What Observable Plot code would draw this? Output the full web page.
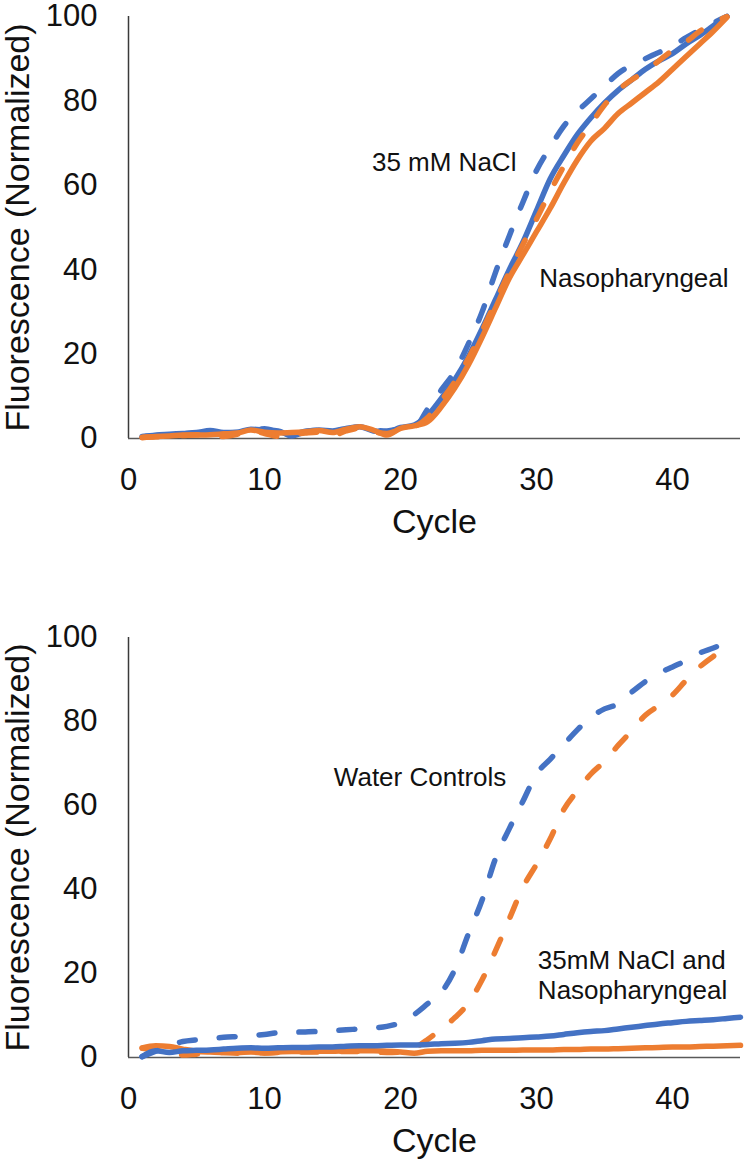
<!DOCTYPE html>
<html>
<head>
<meta charset="utf-8">
<script src="https://cdn.jsdelivr.net/npm/d3@7"></script>
<script src="https://cdn.jsdelivr.net/npm/@observablehq/plot@0.6"></script>
<style>
  html, body { margin: 0; padding: 0; background: #fff; }
  #chart svg { display: block; }
</style>
</head>
<body>
<div id="chart"></div>
<script>
// ---------- data ----------
const cycles = [1,2,3,4,5,6,7,8,9,10,11,12,13,14,15,16,17,18,19,20,21,22,23,24,25,26,27,28,29,30,31,32,33,34,35,36,37,38,39,40,41,42,43,44,45];
const xTicks = [0, 10, 20, 30, 40];
const yTicks = [0, 20, 40, 60, 80, 100];

// Top panel (cycles 1..44)
const topBlueSolid = [0.5,0.8,1.0,1.2,1.4,1.9,1.4,1.5,2.2,2.0, 1.8,0.6,1.6,2.0,1.8,2.4,2.8,1.8,1.6,2.6, 3.2,5.5,9.5,14,19.5,26,33,40,46.5,54, 61.5,67,72,76,79.5,82.5,85,87.5,89.5,91.2, 93.5,95.5,97.8,100];
const topBlueDashed = [0.3,0.7,0.9,1.1,1.3,1.6,1.2,1.4,1.8,2.3, 1.5,1.0,1.7,1.9,2.0,2.2,2.6,2.0,1.8,2.3, 2.6,7.0,11.5,16,22.5,30,39.5,48,56,63.5, 69,74,77.5,80.5,83.5,86.5,88.5,90,91.5,93, 95,96.8,98.5,100];
const topOrangeSolid = [0.3,0.5,0.6,0.8,0.8,0.9,1.1,1.3,2.0,1.5, 1.3,1.4,1.6,1.9,1.4,2.2,2.8,2.0,0.8,2.4, 3.0,4.0,7.5,12,17.5,24,31,38,43.5,49, 54.5,60.5,66,70.5,73.5,77,79.5,82,84.5,87.5, 90.5,93.5,96.5,99.8];
const topOrangeDashed = [0.2,0.4,0.5,0.7,0.9,0.6,0.5,1.0,1.8,1.2, 0.5,1.0,1.3,1.5,0.7,1.8,2.4,1.6,1.2,2.2, 2.8,5.0,9.0,13.5,19,25.5,32.5,39.5,46,52, 58.5,64.5,70,74.5,79,82.5,85,87,89.5,92, 94,96.5,98.5,100];

// Bottom panel
const botBlueSolid = [0.2,1.6,1.2,1.6,1.7,1.8,2.0,2.2,2.3,2.2, 2.3,2.4,2.4,2.5,2.5,2.7,2.8,2.8,2.9,3.0, 3.0,3.1,3.3,3.4,3.6,4.0,4.4,4.5,4.7,4.9, 5.1,5.5,5.9,6.2,6.4,6.8,7.2,7.6,8.0,8.3, 8.6,8.8,9.0,9.3,9.6];
const botOrangeSolid = [2.3,2.8,2.6,2.0,1.5,1.3,1.2,1.2,1.3,1.1, 1.3,1.4,1.4,1.5,1.5,1.6,1.6,1.6,1.5,1.3, 1.0,1.5,1.6,1.6,1.6,1.7,1.7,1.7,1.8,1.8, 1.8,1.9,1.9,2.0,2.0,2.1,2.2,2.3,2.4,2.5, 2.5,2.6,2.7,2.8,2.9];
const botBlueDashed = [0.2,1.5,2.8,3.8,4.2,4.5,4.8,5.0,5.2,5.5, 5.9,6.0,6.1,6.2,6.4,6.6,6.8,7.0,7.4,8.3, 10.2,12.8,15.5,21,29.5,37.5,47.5,54.5,61,67.5, 71,74.5,78,81,83,84.2,87,89.5,91.5,93, 94.5,96.3,97.5,98.8];
const botOrangeDashed = [2.2,1.8,1.2,0.6,0.8,1.0,1.2,1.0,1.2,1.1, 1.2,1.3,1.3,1.3,1.4,1.4,1.4,1.3,1.2,1.3, 2.2,4.3,6.8,9.5,13,18.5,25.5,33,40.5,46, 52,59,63.5,67.5,70.5,74.3,77.8,81.5,83.8,86.3, 89.8,93,95.5,97.5];

// Annotation labels (cycle, normalized fluorescence)
const topLabels = ["35 mM NaCl", "Nasopharyngeal"];
const topLabelX = [17.9, 30.2];
const topLabelY = [65.4, 37.9];
const botLabels = ["Water Controls", "35mM NaCl and", "Nasopharyngeal"];
const botLabelX = [15.1, 30.1, 30.1];
const botLabelY = [66.7, 23.1, 16.0];

// ---------- styling ----------
const BLUE = "#4472C4";
const ORANGE = "#ED7D31";
const FONT = "'Liberation Sans', Arial, Helvetica, sans-serif";
const DASH = "16,24";

function toRows(values) {
  return values.map((v, i) => ({cycle: cycles[i], value: v}));
}
function toLabels(texts, xs, ys) {
  return texts.map((t, i) => ({text: t, x: xs[i], y: ys[i]}));
}

function panel(series, labels, dims) {
  return Plot.plot({
    width: 744,
    height: dims.height,
    marginTop: dims.marginTop,
    marginBottom: dims.marginBottom,
    marginLeft: 128,
    marginRight: 4,
    style: {fontFamily: FONT, fontSize: "31px", color: "#111", background: "#fff", overflow: "visible"},
    x: {domain: [0, 45]},
    y: {domain: [0, 100]},
    marks: [
      Plot.axisY({ticks: yTicks, tickSize: 0, tickPadding: 31, label: null, fontSize: 31}),
      Plot.axisX({ticks: xTicks, tickSize: 0, tickPadding: 29, label: null, fontSize: 31}),
      Plot.ruleX([0], {stroke: "#3a3a3a", strokeWidth: 1.5}),
      Plot.ruleY([0], {stroke: "#595959", strokeWidth: 1.5}),
      ...series.map(s => Plot.line(toRows(s.values), {
        x: "cycle", y: "value", stroke: s.color, strokeWidth: 5.5,
        strokeDasharray: s.dash ? DASH : null,
        strokeLinecap: "round", strokeLinejoin: "round",
        curve: "monotone-x"
      })),
      Plot.text(labels, {x: "x", y: "y", text: "text", textAnchor: "start", fontSize: 26, fill: "#111"}),
      Plot.text(["Cycle"], {frameAnchor: "bottom", textAnchor: "middle", text: d => d, dy: 94, fontSize: 34, fill: "#111"}),
      Plot.text(["Fluorescence (Normalized)"], {frameAnchor: "left", textAnchor: "middle", text: d => d, rotate: -90, dx: -110, fontSize: 34, fill: "#111"})
    ]
  });
}

const topPanel = panel(
  [
    {values: topBlueSolid, color: BLUE, dash: false},
    {values: topBlueDashed, color: BLUE, dash: true},
    {values: topOrangeDashed, color: ORANGE, dash: true},
    {values: topOrangeSolid, color: ORANGE, dash: false}
  ],
  toLabels(topLabels, topLabelX, topLabelY),
  {height: 580, marginTop: 16, marginBottom: 142}
);

const bottomPanel = panel(
  [
    {values: botOrangeSolid, color: ORANGE, dash: false},
    {values: botOrangeDashed, color: ORANGE, dash: true},
    {values: botBlueDashed, color: BLUE, dash: true},
    {values: botBlueSolid, color: BLUE, dash: false}
  ],
  toLabels(botLabels, botLabelX, botLabelY),
  {height: 585, marginTop: 57, marginBottom: 108}
);

const root = document.getElementById("chart");
root.appendChild(topPanel);
root.appendChild(bottomPanel);
</script>
</body>
</html>
